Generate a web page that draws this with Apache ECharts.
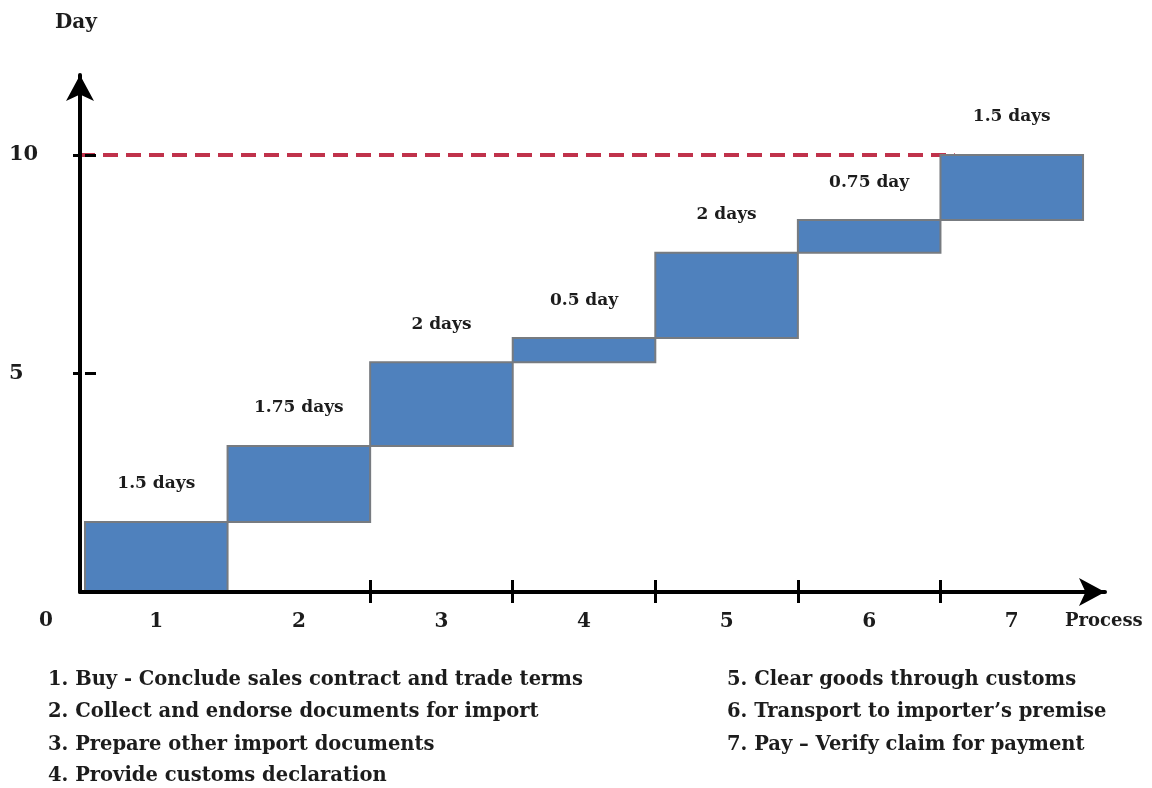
<!DOCTYPE html>
<html><head><meta charset="utf-8">
<script src="https://cdn.jsdelivr.net/npm/echarts@6/dist/echarts.min.js"></script>
<style>html,body{margin:0;padding:0;background:#fff}#c{width:1152px;height:788px}</style>
</head><body><div id="c"></div>
<script>
// ---- data ----
const processes = ['1', '2', '3', '4', '5', '6', '7'];
const startDay = [0, 1.6, 3.34, 5.26, 5.81, 7.76, 8.51];
const endDay = [1.6, 3.34, 5.26, 5.81, 7.76, 8.51, 10];
const durationLabels = ['1.5 days', '1.75 days', '2 days', '0.5 day', '2 days', '0.75 day', '1.5 days'];
const yTickValues = [5, 10];
const xTickValues = [2, 3, 4, 5, 6];
const targetDay = 10;
const targetLineStart = -0.035;
const targetLineEnd = 6.1;
const legendLeft = [
  '1. Buy - Conclude sales contract and trade terms',
  '2. Collect and endorse documents for import',
  '3. Prepare other import documents',
  '4. Provide customs declaration'
];
const legendRight = [
  '5. Clear goods through customs',
  '6. Transport to importer\u2019s premise',
  '7. Pay \u2013 Verify claim for payment'
];

// ---- chart ----
const FONT = '"DejaVu Serif", "Liberation Serif", serif';
const TXT = '#1c1c1c';
const chart = echarts.init(document.getElementById('c'), null, {renderer: 'canvas'});

const X_MIN = -0.035, X_MAX = 7.154, Y_MAX = 11.83;
const gridCfg = {left: 80, right: 47, top: 75, bottom: 196, containLabel: false};

const graphics = [];
graphics.push({type: 'text', x: 55, y: 23, style: {text: 'Day', font: 'bold 20px ' + FONT, fill: TXT, verticalAlign: 'middle'}});
graphics.push({type: 'text', x: 1065, y: 621, style: {text: 'Process', font: 'bold 18px ' + FONT, fill: TXT, verticalAlign: 'middle'}});
graphics.push({type: 'text', x: 39, y: 621, style: {text: '0', font: 'bold 20px ' + FONT, fill: TXT, verticalAlign: 'middle'}});
legendLeft.forEach((t, i) => {
  graphics.push({type: 'text', x: 48, y: [680, 712, 745, 776][i],
    style: {text: t, font: 'bold 19.5px ' + FONT, fill: TXT, verticalAlign: 'middle'}});
});
legendRight.forEach((t, i) => {
  graphics.push({type: 'text', x: 727, y: [680, 712, 745][i],
    style: {text: t, font: 'bold 19.5px ' + FONT, fill: TXT, verticalAlign: 'middle'}});
});

const option = {
  animation: false,
  backgroundColor: '#fff',
  grid: [Object.assign({}, gridCfg), Object.assign({}, gridCfg)],
  xAxis: [{
    type: 'value', gridIndex: 0, min: X_MIN, max: X_MAX, z: 5,
    axisLine: {show: true, onZero: false, symbol: ['none', 'arrow'], symbolSize: [21, 26],
      lineStyle: {color: '#000', width: 4}},
    axisTick: {show: true, inside: false, length: 11, customValues: xTickValues,
      lineStyle: {color: '#000', width: 3}},
    axisLabel: {show: true, margin: 20, customValues: processes.map((p, i) => i + 0.5),
      formatter: v => processes[Math.round(v - 0.5)],
      fontFamily: FONT, fontWeight: 'bold', fontSize: 20, color: TXT},
    splitLine: {show: false}
  }, {
    type: 'value', gridIndex: 1, min: X_MIN, max: X_MAX, z: 5,
    axisLine: {show: false},
    axisTick: {show: true, inside: true, length: 12, customValues: xTickValues,
      lineStyle: {color: '#000', width: 3}},
    axisLabel: {show: false},
    splitLine: {show: false}
  }],
  yAxis: [{
    type: 'value', gridIndex: 0, min: 0, max: Y_MAX, z: 5,
    axisLine: {show: true, onZero: false, symbol: ['none', 'arrow'], symbolSize: [21, 26],
      lineStyle: {color: '#000', width: 4}},
    axisTick: {show: true, inside: false, length: 7, customValues: yTickValues,
      lineStyle: {color: '#000', width: 3}},
    axisLabel: {show: true, margin: 71, align: 'left', customValues: yTickValues,
      fontFamily: FONT, fontWeight: 'bold', fontSize: 21,
      color: v => (v === targetDay ? '#ff1a1a' : TXT)},
    splitLine: {show: false}
  }, {
    type: 'value', gridIndex: 1, min: 0, max: Y_MAX, z: 5,
    axisLine: {show: false},
    axisTick: {show: true, inside: true, length: 11, customValues: yTickValues,
      lineStyle: {color: '#000', width: 3}},
    axisLabel: {show: false},
    splitLine: {show: false}
  }],
  series: [{
    type: 'line', xAxisIndex: 0, yAxisIndex: 0, z: 1,
    data: [[targetLineStart, targetDay], [targetLineEnd, targetDay]],
    symbol: 'none', silent: true,
    lineStyle: {color: '#C0324B', width: 4, type: [15, 8]}
  }, {
    type: 'custom', xAxisIndex: 0, yAxisIndex: 0, z: 2,
    encode: {x: [0, 1], y: [2, 3]},
    data: processes.map((p, i) => [i, i + 1, startDay[i], endDay[i]]),
    renderItem: function (params, api) {
      const i = params.dataIndex;
      const tl = api.coord([api.value(0), api.value(3)]);
      const br = api.coord([api.value(1), api.value(2)]);
      return {
        type: 'group',
        children: [{
          type: 'rect',
          shape: {x: tl[0], y: tl[1], width: br[0] - tl[0], height: br[1] - tl[1]},
          style: {fill: '#4F81BD', stroke: '#777b80', lineWidth: 2}
        }, {
          type: 'text',
          style: {text: durationLabels[i], x: (tl[0] + br[0]) / 2, y: tl[1] - 38,
            align: 'center', verticalAlign: 'middle',
            font: 'bold 17px ' + FONT, fill: TXT}
        }]
      };
    }
  }],
  graphic: graphics
};
chart.setOption(option);
</script></body></html>
